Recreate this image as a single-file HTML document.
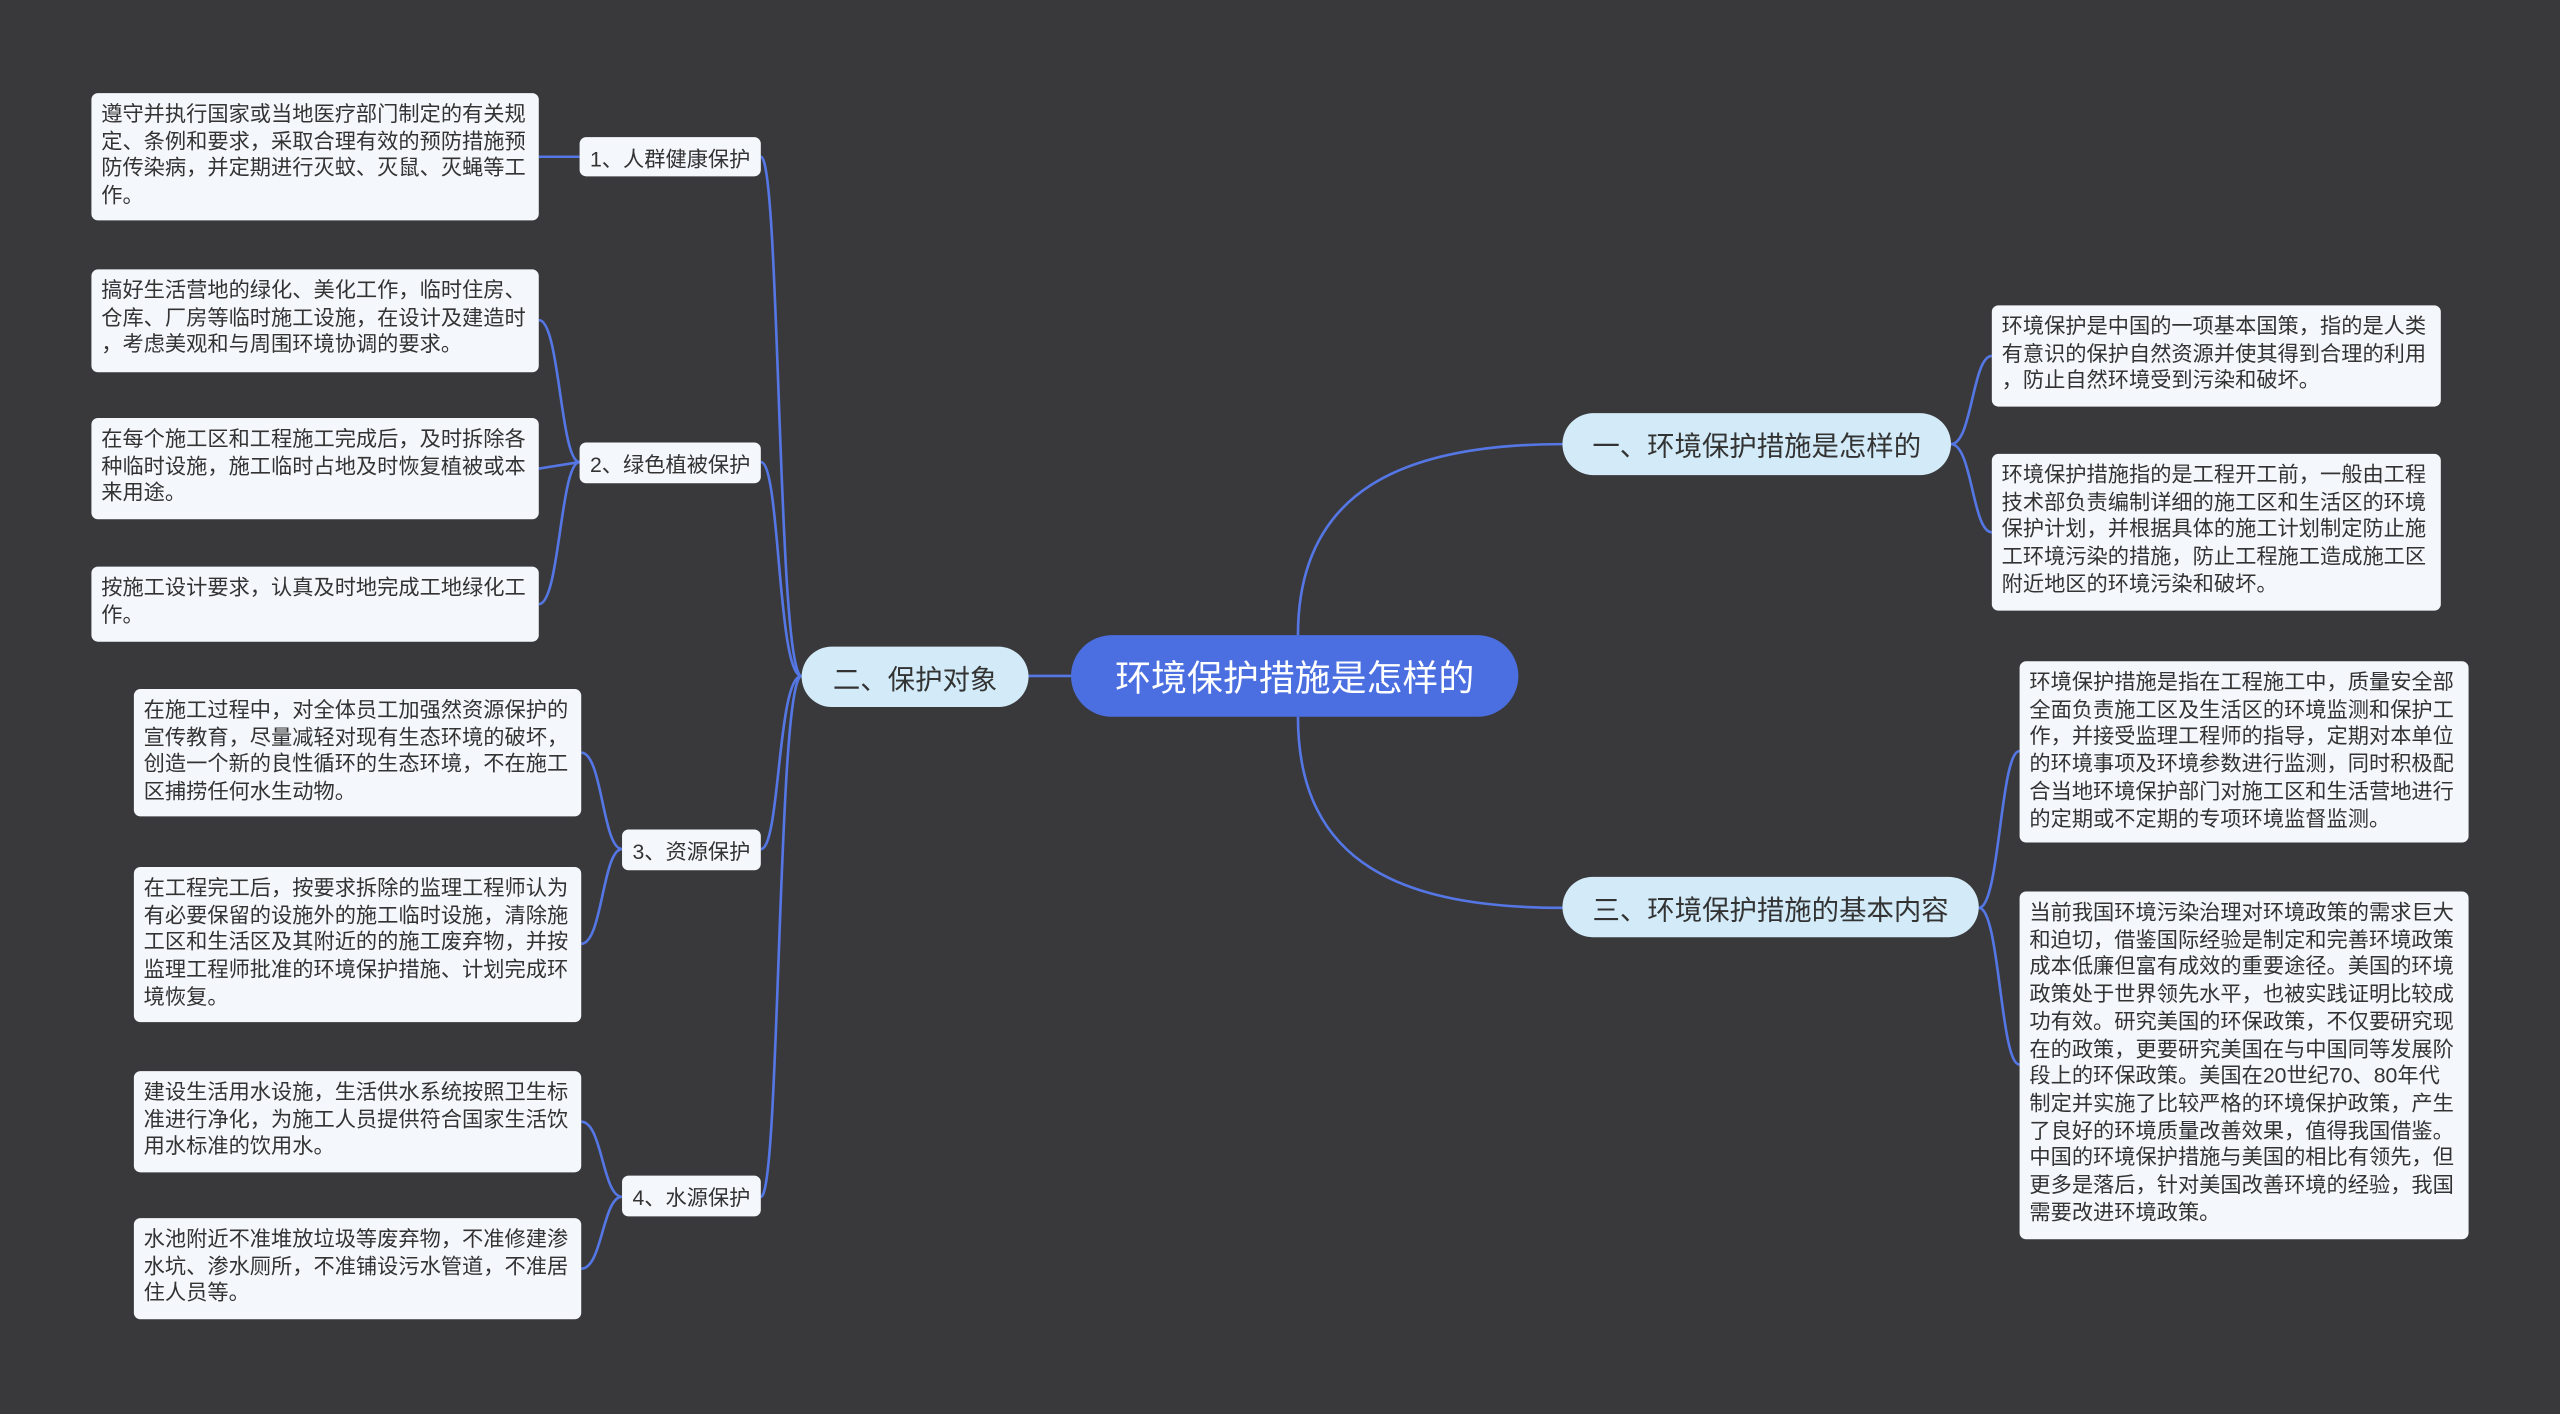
<!DOCTYPE html>
<html><head><meta charset="utf-8"><style>
html,body{margin:0;padding:0;background:#39393b;}
#wrap{position:relative;width:1568px;height:866px;transform:scale(1.63265,1.63280);transform-origin:0 0;font-family:"Liberation Sans","Noto Sans CJK SC",sans-serif;}
.leaf{position:absolute;background:#f4f8fc;border-radius:4px;color:#333;font-size:13px;line-height:16.7px;padding:5px 6px;box-sizing:border-box;white-space:nowrap;}
.sub{position:absolute;background:#f4f8fc;border-radius:4px;color:#333;font-size:13px;box-sizing:border-box;display:flex;align-items:center;justify-content:center;}
.main{position:absolute;background:#d3ebf8;border-radius:19px;color:#333;font-size:16.8px;display:flex;align-items:center;justify-content:center;box-sizing:border-box;}
.root{position:absolute;background:#4b6fe0;border-radius:25px;color:#fff;font-size:22px;display:flex;align-items:center;justify-content:center;}
svg{position:absolute;left:0;top:0;}
</style></head><body><div id="wrap">
<svg width="1568" height="866" fill="none" stroke="#5577e6" stroke-width="1.6">
<path d="M630,414 L656,414"/>
<path d="M795,389 C795,300 860,272 957,272"/>
<path d="M795,439 C795,530 860,556 957,556"/>
<path d="M491,414 C476,414 478,96 466,96"/>
<path d="M491,414 C476,414 478,283 466,283"/>
<path d="M491,414 C476,414 478,520 466,520"/>
<path d="M491,414 C476,414 478,733 466,733"/>
<path d="M355,96 L330,96"/>
<path d="M355,283 C343,283 343,196 330,196"/>
<path d="M355,283 L330,287"/>
<path d="M355,283 C343,283 343,370 330,370"/>
<path d="M381,520 C369,520 369,461 356,461"/>
<path d="M381,520 C369,520 369,578 356,578"/>
<path d="M381,733 C369,733 369,687 356,687"/>
<path d="M381,733 C369,733 369,777 356,777"/>
<path d="M1195,272 C1208,272 1208,218 1220,218"/>
<path d="M1195,272 C1208,272 1208,326 1220,326"/>
<path d="M1212,556 C1225,556 1225,460 1237,460"/>
<path d="M1212,556 C1225,556 1225,652 1237,652"/>
</svg>
<div class="root" style="left:656px;top:389px;width:274px;height:50px;">环境保护措施是怎样的</div>
<div class="main" style="left:491px;top:396px;width:139px;height:37px;">二、保护对象</div>
<div class="main" style="left:957px;top:253px;width:238px;height:38px;">一、环境保护措施是怎样的</div>
<div class="main" style="left:957px;top:537px;width:255px;height:37px;">三、环境保护措施的基本内容</div>
<div class="sub" style="left:355px;top:84px;width:111px;height:24px;">1、人群健康保护</div>
<div class="sub" style="left:355px;top:271px;width:111px;height:25px;">2、绿色植被保护</div>
<div class="sub" style="left:381px;top:508px;width:85px;height:25px;">3、资源保护</div>
<div class="sub" style="left:381px;top:720px;width:85px;height:25px;">4、水源保护</div>
<div class="leaf" style="left:56px;top:57px;width:274px;height:78px;">遵守并执行国家或当地医疗部门制定的有关规<br>定、条例和要求，采取合理有效的预防措施预<br>防传染病，并定期进行灭蚊、灭鼠、灭蝇等工<br>作。</div>
<div class="leaf" style="left:56px;top:165px;width:274px;height:63px;">搞好生活营地的绿化、美化工作，临时住房、<br>仓库、厂房等临时施工设施，在设计及建造时<br>，考虑美观和与周围环境协调的要求。</div>
<div class="leaf" style="left:56px;top:256px;width:274px;height:62px;">在每个施工区和工程施工完成后，及时拆除各<br>种临时设施，施工临时占地及时恢复植被或本<br>来用途。</div>
<div class="leaf" style="left:56px;top:347px;width:274px;height:46px;">按施工设计要求，认真及时地完成工地绿化工<br>作。</div>
<div class="leaf" style="left:82px;top:422px;width:274px;height:78px;">在施工过程中，对全体员工加强然资源保护的<br>宣传教育，尽量减轻对现有生态环境的破坏，<br>创造一个新的良性循环的生态环境，不在施工<br>区捕捞任何水生动物。</div>
<div class="leaf" style="left:82px;top:531px;width:274px;height:95px;">在工程完工后，按要求拆除的监理工程师认为<br>有必要保留的设施外的施工临时设施，清除施<br>工区和生活区及其附近的的施工废弃物，并按<br>监理工程师批准的环境保护措施、计划完成环<br>境恢复。</div>
<div class="leaf" style="left:82px;top:656px;width:274px;height:62px;">建设生活用水设施，生活供水系统按照卫生标<br>准进行净化，为施工人员提供符合国家生活饮<br>用水标准的饮用水。</div>
<div class="leaf" style="left:82px;top:746px;width:274px;height:62px;">水池附近不准堆放垃圾等废弃物，不准修建渗<br>水坑、渗水厕所，不准铺设污水管道，不准居<br>住人员等。</div>
<div class="leaf" style="left:1220px;top:187px;width:275px;height:62px;">环境保护是中国的一项基本国策，指的是人类<br>有意识的保护自然资源并使其得到合理的利用<br>，防止自然环境受到污染和破坏。</div>
<div class="leaf" style="left:1220px;top:278px;width:275px;height:96px;">环境保护措施指的是工程开工前，一般由工程<br>技术部负责编制详细的施工区和生活区的环境<br>保护计划，并根据具体的施工计划制定防止施<br>工环境污染的措施，防止工程施工造成施工区<br>附近地区的环境污染和破坏。</div>
<div class="leaf" style="left:1237px;top:405px;width:275px;height:111px;">环境保护措施是指在工程施工中，质量安全部<br>全面负责施工区及生活区的环境监测和保护工<br>作，并接受监理工程师的指导，定期对本单位<br>的环境事项及环境参数进行监测，同时积极配<br>合当地环境保护部门对施工区和生活营地进行<br>的定期或不定期的专项环境监督监测。</div>
<div class="leaf" style="left:1237px;top:546px;width:275px;height:213px;">当前我国环境污染治理对环境政策的需求巨大<br>和迫切，借鉴国际经验是制定和完善环境政策<br>成本低廉但富有成效的重要途径。美国的环境<br>政策处于世界领先水平，也被实践证明比较成<br>功有效。研究美国的环保政策，不仅要研究现<br>在的政策，更要研究美国在与中国同等发展阶<br>段上的环保政策。美国在20世纪70、80年代<br>制定并实施了比较严格的环境保护政策，产生<br>了良好的环境质量改善效果，值得我国借鉴。<br>中国的环境保护措施与美国的相比有领先，但<br>更多是落后，针对美国改善环境的经验，我国<br>需要改进环境政策。</div>
</div></body></html>
